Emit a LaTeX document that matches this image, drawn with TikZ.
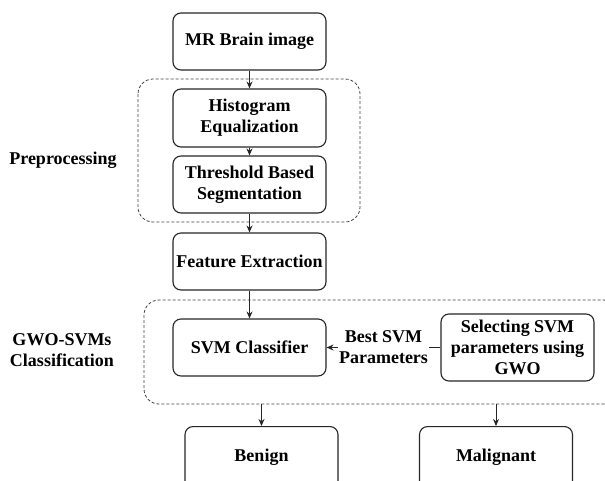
\documentclass[tikz,border=0pt]{standalone}
\usepackage{fontspec}
\setmainfont{Liberation Serif}
\usetikzlibrary{arrows.meta}
\begin{document}
\begin{tikzpicture}[x=1pt,y=-1pt,
  box/.style={draw=black!85, line width=1.1pt, rounded corners=8pt, fill=white,
    minimum width=153pt, align=center, inner sep=2pt,
    font=\fontsize{18}{21}\selectfont\bfseries},
  grp/.style={draw=black!75, line width=0.8pt, dash pattern=on 3pt off 2pt, rounded corners=15pt},
  lbl/.style={align=center, font=\fontsize{18}{21}\selectfont\bfseries},
  arr/.style={-{Stealth[length=7pt,width=6pt]}, line width=0.9pt, draw=black!85}]
\useasboundingbox (0,0) rectangle (605,480);
\begin{scope}
\clip (0,0) rectangle (605,480);
% groups
\draw[grp] (138,79) rectangle (360,222);
\draw[grp] (144,300) rectangle (618,404);
\coordinate (g2b) at (261.5,404);
\coordinate (g2m) at (496,404);
% nodes
\node[box, minimum height=57pt] (mr) at (249.5,41.5) {MR Brain image};
\node[box, minimum height=58pt] (hist) at (249.5,118) {Histogram\\Equalization};
\node[box, minimum height=57pt] (thr) at (249.5,184.5) {Threshold Based\\Segmentation};
\node[box, minimum height=57pt] (feat) at (249.5,261.5) {Feature Extraction};
\node[box, minimum height=57pt] (svm) at (249.5,347.5) {SVM Classifier};
\node[box, minimum height=67pt] (sel) at (517.5,347.5) {Selecting SVM\\parameters using\\GWO};
\node[box, minimum height=62pt, anchor=north] (ben) at (261.5,426) {Benign};
\node[box, minimum height=62pt, anchor=north] (mal) at (496,426) {Malignant};
\node[lbl] (pre) at (63,160.7) {Preprocessing};
\node[lbl] (gwo) at (62,350) {GWO-SVMs\\Classification};
% connectors
\draw[arr] (mr) -- (hist);
\draw[arr] (hist) -- (thr);
\draw[arr] (thr) -- (feat);
\draw[arr] (feat) -- (svm);
\draw[arr] (sel) -- node[lbl, fill=white, inner sep=1pt] (bsp) {Best SVM\\Parameters} (svm);
\draw[arr] (g2b) -- (ben);
\draw[arr] (g2m) -- (mal);
\end{scope}
\end{tikzpicture}
\end{document}
